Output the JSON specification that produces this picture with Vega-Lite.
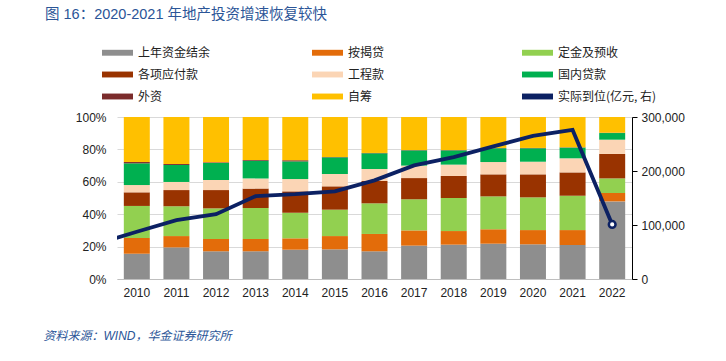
{
  "$schema": "https://vega.github.io/schema/vega-lite/v6.json",
  "width": 515,
  "height": 162,
  "autosize": {"type": "none"},
  "padding": {"left": 117, "top": 117, "right": 94, "bottom": 82},
  "background": "white",
  "config": {
    "view": {"stroke": null},
    "font": "Liberation Sans, Noto Sans CJK SC",
    "axis": {"labelFont": "Liberation Sans, Noto Sans CJK SC", "labelFontSize": 12, "labelColor": "#222222"}
  },
  "title": {
    "text": "图 16：2020-2021 年地产投资增速恢复较快",
    "anchor": "start",
    "frame": "group",
    "dx": -72,
    "offset": 15,
    "font": "Liberation Sans, Noto Sans CJK SC",
    "fontSize": 14.5,
    "fontWeight": "normal",
    "color": "#2B5597"
  },
  "datasets": {
    "bars": [
      {"year": "2010", "item": "上年资金结余", "o": 1, "pct": 15.6},
      {"year": "2010", "item": "按揭贷", "o": 2, "pct": 9.7},
      {"year": "2010", "item": "定金及预收", "o": 3, "pct": 19.8},
      {"year": "2010", "item": "各项应付款", "o": 4, "pct": 8.4},
      {"year": "2010", "item": "工程款", "o": 5, "pct": 4.5},
      {"year": "2010", "item": "国内贷款", "o": 6, "pct": 13.4},
      {"year": "2010", "item": "外资", "o": 7, "pct": 0.8},
      {"year": "2010", "item": "自筹", "o": 8, "pct": 27.8},
      {"year": "2011", "item": "上年资金结余", "o": 1, "pct": 19.5},
      {"year": "2011", "item": "按揭贷", "o": 2, "pct": 7.0},
      {"year": "2011", "item": "定金及预收", "o": 3, "pct": 18.4},
      {"year": "2011", "item": "各项应付款", "o": 4, "pct": 10.0},
      {"year": "2011", "item": "工程款", "o": 5, "pct": 5.0},
      {"year": "2011", "item": "国内贷款", "o": 6, "pct": 10.5},
      {"year": "2011", "item": "外资", "o": 7, "pct": 0.6},
      {"year": "2011", "item": "自筹", "o": 8, "pct": 29.0},
      {"year": "2012", "item": "上年资金结余", "o": 1, "pct": 17.1},
      {"year": "2012", "item": "按揭贷", "o": 2, "pct": 7.6},
      {"year": "2012", "item": "定金及预收", "o": 3, "pct": 18.9},
      {"year": "2012", "item": "各项应付款", "o": 4, "pct": 11.3},
      {"year": "2012", "item": "工程款", "o": 5, "pct": 6.2},
      {"year": "2012", "item": "国内贷款", "o": 6, "pct": 10.5},
      {"year": "2012", "item": "外资", "o": 7, "pct": 0.4},
      {"year": "2012", "item": "自筹", "o": 8, "pct": 28.0},
      {"year": "2013", "item": "上年资金结余", "o": 1, "pct": 17.1},
      {"year": "2013", "item": "按揭贷", "o": 2, "pct": 7.6},
      {"year": "2013", "item": "定金及预收", "o": 3, "pct": 19.1},
      {"year": "2013", "item": "各项应付款", "o": 4, "pct": 12.0},
      {"year": "2013", "item": "工程款", "o": 5, "pct": 6.3},
      {"year": "2013", "item": "国内贷款", "o": 6, "pct": 10.9},
      {"year": "2013", "item": "外资", "o": 7, "pct": 0.5},
      {"year": "2013", "item": "自筹", "o": 8, "pct": 26.5},
      {"year": "2014", "item": "上年资金结余", "o": 1, "pct": 18.1},
      {"year": "2014", "item": "按揭贷", "o": 2, "pct": 7.0},
      {"year": "2014", "item": "定金及预收", "o": 3, "pct": 15.8},
      {"year": "2014", "item": "各项应付款", "o": 4, "pct": 13.2},
      {"year": "2014", "item": "工程款", "o": 5, "pct": 7.6},
      {"year": "2014", "item": "国内贷款", "o": 6, "pct": 10.9},
      {"year": "2014", "item": "外资", "o": 7, "pct": 0.7},
      {"year": "2014", "item": "自筹", "o": 8, "pct": 26.7},
      {"year": "2015", "item": "上年资金结余", "o": 1, "pct": 18.3},
      {"year": "2015", "item": "按揭贷", "o": 2, "pct": 8.2},
      {"year": "2015", "item": "定金及预收", "o": 3, "pct": 16.3},
      {"year": "2015", "item": "各项应付款", "o": 4, "pct": 14.4},
      {"year": "2015", "item": "工程款", "o": 5, "pct": 7.6},
      {"year": "2015", "item": "国内贷款", "o": 6, "pct": 10.3},
      {"year": "2015", "item": "外资", "o": 7, "pct": 0.2},
      {"year": "2015", "item": "自筹", "o": 8, "pct": 24.7},
      {"year": "2016", "item": "上年资金结余", "o": 1, "pct": 17.1},
      {"year": "2016", "item": "按揭贷", "o": 2, "pct": 10.7},
      {"year": "2016", "item": "定金及预收", "o": 3, "pct": 18.9},
      {"year": "2016", "item": "各项应付款", "o": 4, "pct": 13.8},
      {"year": "2016", "item": "工程款", "o": 5, "pct": 7.4},
      {"year": "2016", "item": "国内贷款", "o": 6, "pct": 9.7},
      {"year": "2016", "item": "外资", "o": 7, "pct": 0.2},
      {"year": "2016", "item": "自筹", "o": 8, "pct": 22.2},
      {"year": "2017", "item": "上年资金结余", "o": 1, "pct": 20.6},
      {"year": "2017", "item": "按揭贷", "o": 2, "pct": 9.4},
      {"year": "2017", "item": "定金及预收", "o": 3, "pct": 19.2},
      {"year": "2017", "item": "各项应付款", "o": 4, "pct": 13.1},
      {"year": "2017", "item": "工程款", "o": 5, "pct": 7.7},
      {"year": "2017", "item": "国内贷款", "o": 6, "pct": 9.4},
      {"year": "2017", "item": "外资", "o": 7, "pct": 0.2},
      {"year": "2017", "item": "自筹", "o": 8, "pct": 20.4},
      {"year": "2018", "item": "上年资金结余", "o": 1, "pct": 21.2},
      {"year": "2018", "item": "按揭贷", "o": 2, "pct": 8.4},
      {"year": "2018", "item": "定金及预收", "o": 3, "pct": 20.4},
      {"year": "2018", "item": "各项应付款", "o": 4, "pct": 13.6},
      {"year": "2018", "item": "工程款", "o": 5, "pct": 7.0},
      {"year": "2018", "item": "国内贷款", "o": 6, "pct": 8.8},
      {"year": "2018", "item": "外资", "o": 7, "pct": 0.2},
      {"year": "2018", "item": "自筹", "o": 8, "pct": 20.4},
      {"year": "2019", "item": "上年资金结余", "o": 1, "pct": 21.8},
      {"year": "2019", "item": "按揭贷", "o": 2, "pct": 8.9},
      {"year": "2019", "item": "定金及预收", "o": 3, "pct": 20.3},
      {"year": "2019", "item": "各项应付款", "o": 4, "pct": 13.6},
      {"year": "2019", "item": "工程款", "o": 5, "pct": 7.6},
      {"year": "2019", "item": "国内贷款", "o": 6, "pct": 8.5},
      {"year": "2019", "item": "外资", "o": 7, "pct": 0.2},
      {"year": "2019", "item": "自筹", "o": 8, "pct": 19.1},
      {"year": "2020", "item": "上年资金结余", "o": 1, "pct": 21.4},
      {"year": "2020", "item": "按揭贷", "o": 2, "pct": 8.8},
      {"year": "2020", "item": "定金及预收", "o": 3, "pct": 20.2},
      {"year": "2020", "item": "各项应付款", "o": 4, "pct": 14.2},
      {"year": "2020", "item": "工程款", "o": 5, "pct": 7.8},
      {"year": "2020", "item": "国内贷款", "o": 6, "pct": 8.3},
      {"year": "2020", "item": "外资", "o": 7, "pct": 0.2},
      {"year": "2020", "item": "自筹", "o": 8, "pct": 19.1},
      {"year": "2021", "item": "上年资金结余", "o": 1, "pct": 21.0},
      {"year": "2021", "item": "按揭贷", "o": 2, "pct": 9.2},
      {"year": "2021", "item": "定金及预收", "o": 3, "pct": 21.2},
      {"year": "2021", "item": "各项应付款", "o": 4, "pct": 14.4},
      {"year": "2021", "item": "工程款", "o": 5, "pct": 8.7},
      {"year": "2021", "item": "国内贷款", "o": 6, "pct": 6.6},
      {"year": "2021", "item": "外资", "o": 7, "pct": 0.2},
      {"year": "2021", "item": "自筹", "o": 8, "pct": 18.7},
      {"year": "2022", "item": "上年资金结余", "o": 1, "pct": 47.9},
      {"year": "2022", "item": "按揭贷", "o": 2, "pct": 5.2},
      {"year": "2022", "item": "定金及预收", "o": 3, "pct": 9.0},
      {"year": "2022", "item": "各项应付款", "o": 4, "pct": 15.1},
      {"year": "2022", "item": "工程款", "o": 5, "pct": 8.8},
      {"year": "2022", "item": "国内贷款", "o": 6, "pct": 4.1},
      {"year": "2022", "item": "外资", "o": 7, "pct": 0.2},
      {"year": "2022", "item": "自筹", "o": 8, "pct": 9.7}
    ],
    "line": [
      {"year": 2009, "value": 65500},
      {"year": 2010, "value": 87500},
      {"year": 2011, "value": 109000},
      {"year": 2012, "value": 120100},
      {"year": 2013, "value": 153400},
      {"year": 2014, "value": 157000},
      {"year": 2015, "value": 162400},
      {"year": 2016, "value": 182700},
      {"year": 2017, "value": 210400},
      {"year": 2018, "value": 225800},
      {"year": 2019, "value": 245500},
      {"year": 2020, "value": 265000},
      {"year": 2021, "value": 276000},
      {"year": 2022, "value": 101000}
    ]
  },
  "layer": [
    {
      "data": {"name": "bars"},
      "mark": {"type": "bar"},
      "encoding": {
        "x": {
          "field": "year", "type": "nominal",
          "scale": {"paddingInner": 0.344, "paddingOuter": 0.172},
          "axis": {
            "labelAngle": 0, "ticks": false, "domainColor": "#BFBFBF", "labelPadding": 8,
            "title": "资料来源：WIND，华金证券研究所",
            "titleX": -74, "titleY": 56, "titleAlign": "left", "titleAnchor": "start", "titleBaseline": "middle",
            "titleFont": "Liberation Sans, Noto Sans CJK SC", "titleFontSize": 12, "titleFontWeight": "normal",
            "titleFontStyle": "italic", "titleColor": "#2B5597"
          }
        },
        "y": {
          "field": "pct", "type": "quantitative", "stack": "normalize",
          "axis": {
            "title": null, "format": ".0%", "values": [0, 0.2, 0.4, 0.6, 0.8, 1],
            "ticks": false, "domain": false, "grid": true, "gridColor": "#D9D9D9", "labelPadding": 11
          }
        },
        "color": {
          "field": "item", "type": "nominal",
          "scale": {
            "domain": ["上年资金结余", "各项应付款", "外资", "按揭贷", "工程款", "自筹", "定金及预收", "国内贷款", "实际到位(亿元, 右)"],
            "range": ["#8E8E8E", "#993300", "#7B2C2C", "#E36C0A", "#FBD5B5", "#FFC000", "#92D050", "#00B050", "#0C2163"]
          },
          "legend": {
            "title": null, "orient": "none", "legendX": -15, "legendY": -80,
            "columns": 3, "gridAlign": "all", "columnPadding": 75, "rowPadding": -0.5,
            "symbolType": "M-1,-0.19H1V0.19H-1Z", "symbolSize": 961, "symbolStrokeWidth": 0,
            "labelFont": "Noto Sans CJK SC", "labelFontSize": 12, "labelColor": "#222222", "labelOffset": 5,
            "labelLimit": 200
          }
        },
        "order": {"field": "o", "type": "quantitative"}
      }
    },
    {
      "data": {"name": "line"},
      "encoding": {
        "x": {
          "field": "year", "type": "quantitative",
          "scale": {"domain": [2009.5, 2022.5], "nice": false, "zero": false},
          "axis": null
        },
        "y": {
          "field": "value", "type": "quantitative",
          "scale": {"domain": [0, 300000], "nice": false},
          "axis": {
            "orient": "right", "title": null, "format": ",.0f", "values": [0, 100000, 200000, 300000],
            "grid": false, "domain": true, "domainColor": "#000000", "ticks": true, "tickColor": "#000000",
            "tickSize": 5, "labelPadding": 4
          }
        }
      },
      "layer": [
        {"mark": {"type": "line", "clip": true, "color": "#0C2163", "strokeWidth": 3.8}},
        {
          "transform": [{"filter": "datum.year == 2022"}],
          "mark": {"type": "point", "filled": true, "fill": "#FFFFFF", "stroke": "#0C2163", "strokeWidth": 2.5, "size": 45, "opacity": 1}
        }
      ]
    }
  ],
  "resolve": {"scale": {"x": "independent", "y": "independent", "color": "independent"}}
}
